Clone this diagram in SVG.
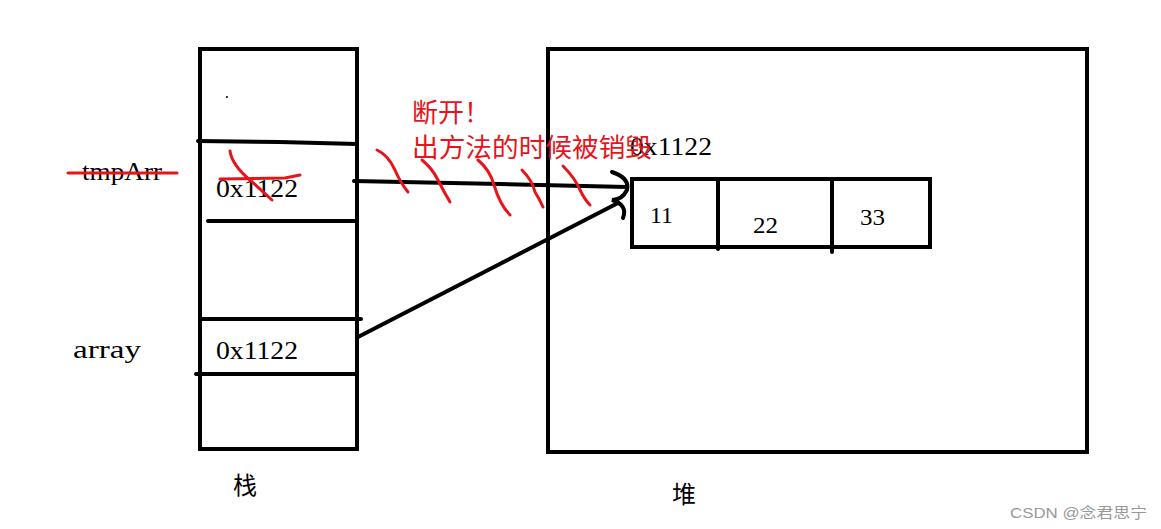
<svg xmlns="http://www.w3.org/2000/svg" width="1161" height="529" viewBox="0 0 1161 529">
<style>
.box{fill:none;stroke:#000;stroke-width:4}
.ln{fill:none;stroke:#000;stroke-width:4;stroke-linecap:round}
.red{fill:none;stroke:#e8141c;stroke-width:3;stroke-linecap:round}
.t{font-family:"Liberation Serif",serif;font-size:26px;fill:#000}
.n{font-family:"Liberation Serif",serif;font-size:24px;fill:#000}
.cn{font-family:"Noto Sans CJK SC",sans-serif;font-size:24px}
.cr{font-family:"Noto Sans CJK SC",sans-serif;font-size:26px}
</style>
<rect width="1161" height="529" fill="#fff"/>
<g id="stack">
<rect class="box" x="200" y="49" width="157" height="400"/>
<path class="ln" d="M198 141 L280 142 L357 144"/>
<path class="ln" d="M208 221 L355 221"/>
<path class="ln" d="M200 319 L361 319"/>
<path class="ln" d="M196 374 L355 374"/>
<circle cx="227" cy="97" r="1" fill="#000"/>
<text class="t" x="216" y="197" textLength="82" lengthAdjust="spacingAndGlyphs">0x1122</text>
<text class="t" x="216" y="359" textLength="82" lengthAdjust="spacingAndGlyphs">0x1122</text>
<text class="cn" x="233" y="494">栈</text>
</g>
<g id="labels">
<text class="t" x="82" y="180" textLength="80" lengthAdjust="spacingAndGlyphs">tmpArr</text>
<path class="red" d="M68 173 L177 173"/>
<text class="t" x="73" y="358" textLength="68" lengthAdjust="spacingAndGlyphs">array</text>
<path class="red" d="M230 151 Q232 165 250 180 L272 200"/>
<path class="red" d="M220 179 L285 178 L300 175"/>
</g>
<g id="heap">
<rect class="box" x="548" y="49" width="539" height="403"/>
<text class="t" x="630" y="155" textLength="82" lengthAdjust="spacingAndGlyphs">0x1122</text>
<text class="cn" x="672" y="503">堆</text>
</g>
<g id="array">
<rect class="box" x="632" y="179" width="298" height="68"/>
<path class="ln" d="M718 179 L718 249"/>
<path class="ln" d="M832 179 L832 252"/>
<text class="n" x="650" y="223" textLength="23" lengthAdjust="spacingAndGlyphs">11</text>
<text class="n" x="753" y="233" textLength="25" lengthAdjust="spacingAndGlyphs">22</text>
<text class="n" x="860" y="225" textLength="25" lengthAdjust="spacingAndGlyphs">33</text>
</g>
<g id="connectors">
<path class="ln" d="M354 181 L500 184 L627 187"/>
<path class="ln" d="M358 337 L618 203"/>
<path class="ln" d="M612 172 Q630 178 627 190 Q622 200 612 200 Q628 205 623 218"/>
</g>
<g id="hatch">
<path class="red" d="M377 150 Q388 155 395 170 Q400 182 408 192"/>
<path class="red" d="M422 160 Q432 168 438 180 Q444 192 450 202"/>
<path class="red" d="M478 160 Q490 170 494 185 Q500 205 510 215"/>
<path class="red" d="M522 170 Q532 180 535 192 Q540 200 543 207"/>
<path class="red" d="M563 166 Q575 178 580 190 Q585 200 590 205"/>
</g>
<g id="note" fill="#e8141c">
<text class="cr" x="412" y="122">断开！</text>
<text class="cr" x="412" y="157" textLength="240" lengthAdjust="spacingAndGlyphs">出方法的时候被销毁</text>
</g>
<text x="1010" y="518" font-family="Liberation Sans, Noto Sans CJK SC, sans-serif" font-size="15" fill="#999" textLength="137" lengthAdjust="spacingAndGlyphs">CSDN @念君思宁</text>
</svg>
